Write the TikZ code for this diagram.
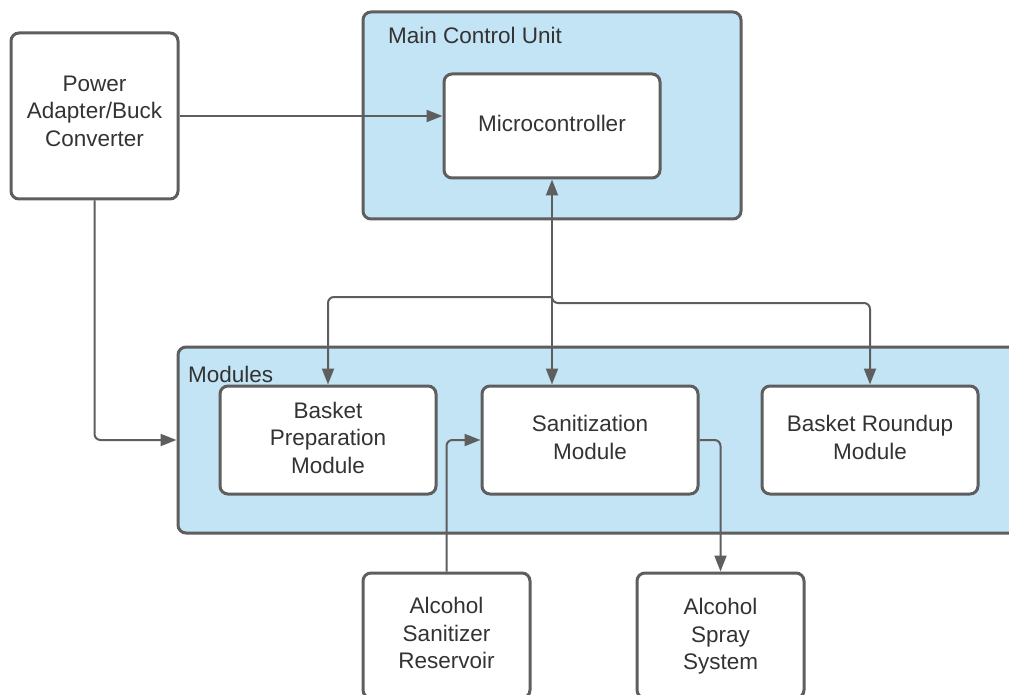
\documentclass[tikz,border=0pt]{standalone}
\usepackage{fontspec}
\setmainfont{Liberation Sans}
\usetikzlibrary{arrows.meta,positioning}
\definecolor{edge}{HTML}{5E5E5E}
\definecolor{panel}{HTML}{C3E4F5}
\definecolor{ink}{HTML}{333333}
% centred lines, lifted a little without changing the box size
\newcommand{\liftlines}[2]{\raisebox{#1}[\height][\depth]{\begin{tabular}{@{}c@{}}#2\end{tabular}}}
\tikzset{
  x=1pt, y=-1pt,
  box/.style={draw=edge, line width=3pt, rounded corners=8pt, fill=white,
    inner sep=0pt, align=center, text=ink,
    font=\fontsize{22.5}{27.5}\selectfont},
  group/.style={draw=edge, line width=3pt, rounded corners=8pt, fill=panel, inner sep=0pt},
  grouplabel/.style={anchor=base west, inner sep=0pt, text=ink,
    font=\fontsize{22.5}{27.5}\selectfont},
  conn/.style={draw=edge, line width=2pt, rounded corners=6pt,
    -{Triangle[length=16pt,width=12pt]}},
}
\begin{document}
\begin{tikzpicture}
\useasboundingbox (0,0) rectangle (1009,695);
\clip (0,0) rectangle (1009,695);
\fill[white] (0,0) rectangle (1009,695);

% containers
\node[group, minimum width=378pt, minimum height=207pt] (mcuunit) at (552,115.5) {};
\node[grouplabel] (mculabel) at (388,44) {Main Control Unit};
\node[group, minimum width=852pt, minimum height=186pt] (mods) at (604,440) {};
\node[grouplabel] (modslabel) at (188,382) {Modules};

% blocks
\node[box, minimum width=167pt, minimum height=166pt] (pwr) at (94.5,116) {\liftlines{2.5pt}{Power\\Adapter/Buck\\Converter}};
\node[box, minimum width=216pt, minimum height=104pt] (mcu) at (552,126) {\liftlines{0pt}{Microcontroller}};
\node[box, minimum width=216pt, minimum height=108pt] (bp) at (328,440) {\liftlines{0pt}{Basket\\Preparation\\Module}};
\node[box, minimum width=216pt, minimum height=108pt] (san) at (590,440) {\liftlines{0pt}{Sanitization\\Module}};
\node[box, minimum width=216pt, minimum height=108pt] (br) at (870,440) {\liftlines{0pt}{Basket Roundup\\Module}};
\node[box, minimum width=167pt, minimum height=125pt] (res) at (446.5,635.5) {\liftlines{0pt}{Alcohol\\Sanitizer\\Reservoir}};
\node[box, minimum width=167pt, minimum height=125pt] (spr) at (720.5,635.5) {\liftlines{-1pt}{Alcohol\\Spray\\System}};

% power distribution
\draw[conn] (pwr.east) -- (pwr.east -| mcu.west);
\draw[conn] (pwr.south) |- (mods.west);

% control bus
\coordinate (hub) at (552,297);
\draw[conn, {Triangle[length=16pt,width=12pt]}-{Triangle[length=16pt,width=12pt]}]
  (mcu.south) -- (mcu.south |- san.north);
\draw[conn] (hub) -| (bp.north);
\draw[conn] (hub) -- (552,303) -| (br.north);

% sanitizer flow
\draw[conn] (res.north) |- (san.west);
\draw[conn] (san.east) -| (spr.north);
\end{tikzpicture}
\end{document}
